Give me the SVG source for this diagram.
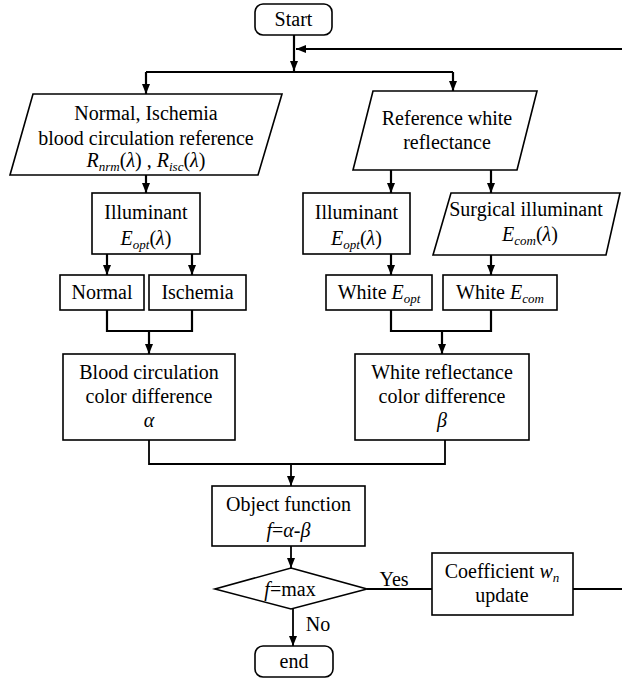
<svg xmlns="http://www.w3.org/2000/svg" width="622" height="682" viewBox="0 0 622 682" font-family="'Liberation Serif', 'DejaVu Serif', serif">
<style>
.box{fill:#fff;stroke:#000;stroke-width:1.6}
.t{font-family:'Liberation Serif','Times New Roman',Times,'DejaVu Serif',serif;font-size:20px;fill:#000;text-anchor:middle}
.i{font-style:italic}
.sub{font-size:13px;font-style:italic}
.c{fill:none;stroke:#000;stroke-width:2.2}
.c1{fill:none;stroke:#000;stroke-width:1.8}
</style>
<defs>
<marker id="ar" markerUnits="userSpaceOnUse" markerWidth="10" markerHeight="10" viewBox="0 0 10 10" refX="10" refY="5" orient="auto">
<path d="M0,1 L10,5 L0,9 Z" fill="#000"/>
</marker>
</defs>
<rect width="622" height="682" fill="#fff"/>
<g id="connectors">
<path class="c" d="M294,35 V71" marker-end="url(#ar)"/>
<path class="c" d="M622,49 H296" marker-end="url(#ar)"/>
<path class="c" d="M146,72 H453"/>
<path class="c" d="M146,72 V94" marker-end="url(#ar)"/>
<path class="c" d="M453,72 V91" marker-end="url(#ar)"/>
<path class="c" d="M146,175 V193" marker-end="url(#ar)"/>
<path class="c" d="M391,170 V193" marker-end="url(#ar)"/>
<path class="c" d="M491,170 V193" marker-end="url(#ar)"/>
<path class="c" d="M107,254 V275" marker-end="url(#ar)"/>
<path class="c" d="M192,254 V275" marker-end="url(#ar)"/>
<path class="c" d="M391,254 V275" marker-end="url(#ar)"/>
<path class="c" d="M491,255 V275" marker-end="url(#ar)"/>
<path class="c" d="M107,310 V331 H192 V310"/>
<path class="c" d="M149,331 V354" marker-end="url(#ar)"/>
<path class="c" d="M391,310 V331 H491 V310"/>
<path class="c" d="M442,331 V354" marker-end="url(#ar)"/>
<path class="c1" d="M149,440 V464 H445 V440"/>
<path class="c1" d="M291,464 V486" marker-end="url(#ar)"/>
<path class="c1" d="M291,546 V568" marker-end="url(#ar)"/>
<path class="c1" d="M367,589 H432"/>
<path class="c1" d="M573,589 H622"/>
<path class="c1" d="M293,609 V646" marker-end="url(#ar)"/>
<text class="t" x="394" y="586">Yes</text>
<text class="t" x="318" y="631">No</text>
</g>
<g id="start">
<rect class="box" x="255" y="4" width="77" height="31" rx="8"/>
<text class="t" x="293.5" y="26">Start</text>
</g>
<g id="blood-ref">
<polygon class="box" points="33,94 282,94 258,175 10,175"/>
<text class="t" x="146" y="120">Normal, Ischemia</text>
<text class="t" x="146" y="145">blood circulation reference</text>
<text class="t" x="146" y="167"><tspan class="i">R</tspan><tspan class="sub" dy="4">nrm</tspan><tspan dy="-4">(</tspan><tspan class="i">λ</tspan>) , <tspan class="i">R</tspan><tspan class="sub" dy="4">isc</tspan><tspan dy="-4">(</tspan><tspan class="i">λ</tspan>)</text>
</g>
<g id="white-ref">
<polygon class="box" points="373,91 537,91 517,170 353,170"/>
<text class="t" x="447" y="125">Reference white</text>
<text class="t" x="447" y="149">reflectance</text>
</g>
<g id="illum-left">
<rect class="box" x="92" y="193" width="108" height="61"/>
<text class="t" x="146" y="219">Illuminant</text>
<text class="t" x="146" y="245"><tspan class="i">E</tspan><tspan class="sub" dy="4">opt</tspan><tspan dy="-4">(</tspan><tspan class="i">λ</tspan>)</text>
</g>
<g id="illum-right">
<rect class="box" x="303" y="193" width="107" height="61"/>
<text class="t" x="356.5" y="219">Illuminant</text>
<text class="t" x="356.5" y="245"><tspan class="i">E</tspan><tspan class="sub" dy="4">opt</tspan><tspan dy="-4">(</tspan><tspan class="i">λ</tspan>)</text>
</g>
<g id="surgical">
<polygon class="box" points="451,193 620,193 606,255 433,255"/>
<text class="t" x="526" y="216">Surgical illuminant</text>
<text class="t" x="530" y="241"><tspan class="i">E</tspan><tspan class="sub" dy="4">com</tspan><tspan dy="-4">(</tspan><tspan class="i">λ</tspan>)</text>
</g>
<g id="normal">
<rect class="box" x="60" y="275" width="84" height="35"/>
<text class="t" x="102" y="299">Normal</text>
</g>
<g id="ischemia">
<rect class="box" x="149" y="275" width="97" height="35"/>
<text class="t" x="197.5" y="299">Ischemia</text>
</g>
<g id="white-eopt">
<rect class="box" x="326" y="275" width="106" height="35"/>
<text class="t" x="379" y="299">White <tspan class="i">E</tspan><tspan class="sub" dy="4">opt</tspan></text>
</g>
<g id="white-ecom">
<rect class="box" x="443" y="275" width="114" height="35"/>
<text class="t" x="500" y="299">White <tspan class="i">E</tspan><tspan class="sub" dy="4">com</tspan></text>
</g>
<g id="blood-diff">
<rect class="box" x="63" y="354" width="172" height="86"/>
<text class="t" x="149" y="379">Blood circulation</text>
<text class="t" x="149" y="403">color difference</text>
<text class="t i" x="149" y="427">α</text>
</g>
<g id="white-diff">
<rect class="box" x="355" y="354" width="174" height="86"/>
<text class="t" x="442" y="379">White reflectance</text>
<text class="t" x="442" y="403">color difference</text>
<text class="t i" x="442" y="427">β</text>
</g>
<g id="object">
<rect class="box" x="212" y="486" width="153" height="60"/>
<text class="t" x="288.5" y="511">Object function</text>
<text class="t" x="288.5" y="537"><tspan class="i">f</tspan>=<tspan class="i">α</tspan>-<tspan class="i">β</tspan></text>
</g>
<g id="decision">
<polygon class="box" points="291,568 367,589 291,609 215,589"/>
<text class="t" x="290" y="596"><tspan class="i">f</tspan>=max</text>
</g>
<g id="coefficient">
<rect class="box" x="432" y="553" width="141" height="62"/>
<text class="t" x="502" y="578">Coefficient <tspan class="i">w</tspan><tspan class="sub" dy="4">n</tspan></text>
<text class="t" x="502" y="602">update</text>
</g>
<g id="end">
<rect class="box" x="255" y="646" width="78" height="31" rx="8"/>
<text class="t" x="294" y="668">end</text>
</g>
</svg>
